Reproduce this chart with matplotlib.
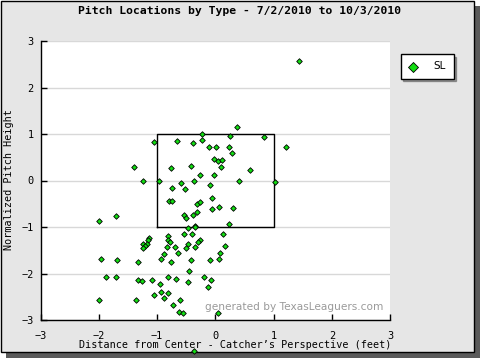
import matplotlib
matplotlib.use("Agg")
import matplotlib.pyplot as plt
from matplotlib.patches import Rectangle

# pitch locations (feet)
sl_x = [-1.05, -0.65, -0.38, -1.39, -0.76, -0.41, -0.26, -1.24, -0.96, -0.58,
        -0.36, -0.74, -0.52, -0.79, -0.74, -0.31, -0.27, -0.31, -0.53, -0.50,
        -0.38, -1.70, 0.38, -0.22, 0.26, 0.84, -0.22, 1.22, -0.10, 0.02,
        0.24, 0.29, -0.03, 0.05, 0.12, 0.10, 0.60, -0.03, 0.40, 1.02,
        -0.09, -0.05, 0.07, 0.31, -0.05, -1.99, -0.34, -0.34, -0.46, -0.53,
        -0.40, -1.13, -1.15, -0.81, -0.81, -0.77, -1.24, -1.18, -1.20, -1.24,
        -0.27, -0.29, -0.46, -0.69, -0.82, -0.50, -0.34, -0.88, -0.64, -0.93,
        -1.96, -1.68, -1.32, -0.76, -0.41, -0.45, -1.87, -1.70, -0.81, -0.67,
        -1.32, -1.25, -1.08, -0.94, -0.46, -0.93, -0.81, -1.06, -0.88, -1.99,
        -1.36, -0.60, -0.72, -0.62, -0.55, 0.24, 0.14, 0.17, 0.09, -0.09,
        0.07, -0.19, -0.07, -0.12, 0.05, -0.36, 1.44]
sl_y = [0.82, 0.84, 0.80, 0.30, 0.26, 0.32, 0.11, -0.02, 0.00, -0.06,
        -0.02, -0.17, -0.19, -0.45, -0.45, -0.50, -0.47, -0.67, -0.75, -0.80,
        -0.75, -0.77, 1.16, 1.01, 0.95, 0.93, 0.88, 0.73, 0.71, 0.71,
        0.71, 0.60, 0.47, 0.43, 0.45, 0.28, 0.22, 0.11, 0.00, -0.04,
        -0.09, -0.37, -0.56, -0.60, -0.62, -0.88, -0.97, -1.01, -1.03, -1.14,
        -1.14, -1.23, -1.27, -1.20, -1.27, -1.33, -1.36, -1.36, -1.40, -1.46,
        -1.27, -1.33, -1.36, -1.42, -1.44, -1.46, -1.44, -1.57, -1.55, -1.68,
        -1.68, -1.72, -1.76, -1.76, -1.72, -1.94, -2.07, -2.07, -2.07, -2.11,
        -2.15, -2.17, -2.13, -2.22, -2.19, -2.39, -2.41, -2.47, -2.52, -2.56,
        -2.58, -2.56, -2.67, -2.82, -2.84, -0.93, -1.16, -1.40, -1.55, -1.70,
        -1.68, -2.07, -2.13, -2.30, -2.86, -3.67, 2.58]

zone_x = [-1, 1, 1, -1, -1]
zone_y = [-1, -1, 1, 1, -1]

mono = "DejaVu Sans Mono"
bg = "#e6e6e6"

fig = plt.figure(figsize=(4.8, 3.6), dpi=100)
fig.patch.set_facecolor("white")

# frame with drop shadow
fig.add_artist(Rectangle((6 / 480, 2 / 360), 474 / 480, 352 / 360,
                         transform=fig.transFigure, facecolor="#5a5a5a",
                         edgecolor="none", zorder=-3))
fig.add_artist(Rectangle((0.5 / 480, 8 / 360), 473 / 480, 351.5 / 360,
                         transform=fig.transFigure, facecolor=bg,
                         edgecolor="black", linewidth=1.0, zorder=-2))

ax = fig.add_axes([40.5 / 480, 1 - 320 / 360, 349.5 / 480, 279 / 360])
ax.set_facecolor("white")

ax.plot(zone_x, zone_y, color="black", linewidth=1.0, zorder=2)
ax.scatter(sl_x, sl_y, marker="D", s=8, c="#11dd11", edgecolors="black",
           linewidths=0.6, zorder=4, clip_on=False, label="SL")

ax.text(0.98, 0.0466, "generated by TexasLeaguers.com", transform=ax.transAxes,
        ha="right", va="center", fontsize=7.6, color="#9a9a9a", zorder=1)

ax.set_xlim(-3, 3)
ax.set_ylim(-3, 3)
ax.set_xticks(range(-3, 4))
ax.set_yticks(range(-3, 4))
ax.yaxis.grid(True, color="#d8d8d8", linewidth=1.0)
ax.set_axisbelow(True)
for side in ["top", "right"]:
    ax.spines[side].set_visible(False)
for side in ["left", "bottom"]:
    ax.spines[side].set_color("black")
    ax.spines[side].set_linewidth(1.0)
ax.tick_params(direction="in", length=4, width=1, labelsize=7.4)
ax.tick_params(axis="x", pad=8)
ax.tick_params(axis="y", pad=5)
for lbl in ax.get_xticklabels() + ax.get_yticklabels():
    lbl.set_family(mono)

fig.text(240 / 480, 1 - 11 / 360, "Pitch Locations by Type - 7/2/2010 to 10/3/2010",
         ha="center", va="center", family=mono, fontweight="bold", fontsize=8.2)
fig.text(235.5 / 480, 1 - 345.5 / 360,
         "Distance from Center - Catcher\u2019s Perspective (feet)",
         ha="center", va="center", family=mono, fontsize=7.3)
fig.text(9.5 / 480, 1 - 180 / 360, "Normalized Pitch Height", rotation=90,
         ha="center", va="center", family=mono, fontsize=7.3)

leg = fig.legend(loc="upper left", bbox_to_anchor=(400.5 / 480, 1 - 54 / 360),
                 frameon=True, fancybox=False, shadow=True, fontsize=7.5,
                 markerscale=1.8, handlelength=1.0, handletextpad=1.5,
                 borderpad=0.7, borderaxespad=0)
leg.get_frame().set_edgecolor("black")
leg.get_frame().set_linewidth(1.0)

fig.savefig("out.png", dpi=100, facecolor=fig.get_facecolor())
